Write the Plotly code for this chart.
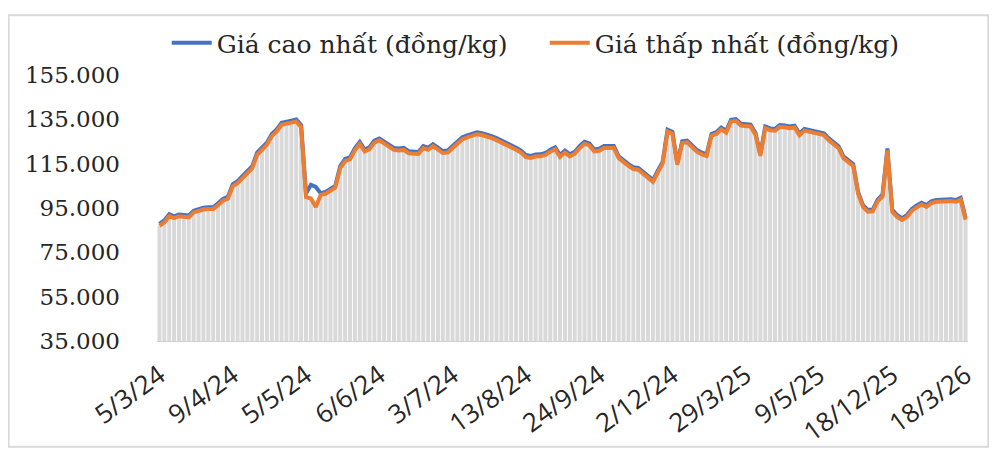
import plotly.graph_objects as go

tick_pos = [0, 15, 30, 45, 60, 75, 90, 105, 120, 135, 150, 165]
tick_labels = ["5/3/24", "9/4/24", "5/5/24", "6/6/24", "3/7/24", "13/8/24",
               "24/9/24", "2/12/24", "29/3/25", "9/5/25", "18/12/25", "18/3/26"]

gia_thap = [
    87000, 88500, 91300, 90400, 91300, 91000, 90800, 93000, 93700, 94300,
    94500, 94500, 96300, 98300, 99200, 104800, 106200, 108500, 110500, 113000,
    119000, 121500, 123500, 127500, 129500, 132500, 132800, 133500, 134000, 131500,
    100000, 99300, 95500, 100900, 101400, 102800, 104200, 113000, 116200, 116900,
    121000, 123900, 120500, 121500, 124500, 125500, 124100, 122500, 121200, 121000,
    121200, 119700, 119500, 119400, 122000, 121300, 122900, 121300, 119800, 120000,
    122100, 123700, 126000, 126900, 127500, 128300, 127900, 127300, 126500, 125600,
    124600, 123500, 122400, 121300, 120000, 118000, 117600, 118200, 118300, 118900,
    120400, 121500, 118000, 120000, 118300, 119500, 122000, 124000, 123200, 120500,
    120800, 122100, 122100, 122100, 117500, 115500, 114000, 112600, 112300, 110500,
    108400, 106800, 111000, 115000, 129500, 128500, 114500, 124300, 124600, 122300,
    120400, 119200, 118500, 127600, 128400, 130500, 129000, 134000, 134300, 132200,
    132100, 131800, 128000, 118500, 131000, 130100, 129900, 131600, 131400, 131000,
    131300, 127800, 129900, 129300, 128700, 128400, 127900, 125600, 123800, 122000,
    117500, 115900, 114000, 101500, 95500, 93300, 93500, 98000, 100200, 121000,
    93300, 91000, 89600, 91000, 93800, 95300, 96600, 95500, 97200, 97800,
    98000, 98200, 98100, 97800, 98800, 89700,
]

gia_cao = [
    87800, 89400, 92200, 91200, 92100, 91800, 91600, 93800, 94500, 95100,
    95300, 95300, 97100, 99100, 100000, 105700, 107100, 109400, 111400, 113900,
    120000, 122500, 124500, 128400, 130400, 133400, 133700, 134400, 134900, 132400,
    101500, 105500, 104500, 101700, 102200, 103600, 105000, 113900, 117100, 117800,
    121900, 124800, 121400, 122400, 125400, 126400, 125000, 123400, 122100, 121900,
    122100, 120600, 120400, 120300, 122900, 122200, 123800, 122200, 120700, 120900,
    123000, 124600, 126900, 127800, 128400, 129200, 128800, 128200, 127400, 126500,
    125500, 124400, 123300, 122200, 120900, 118900, 118500, 119100, 119200, 119800,
    121300, 122400, 118900, 120900, 119200, 120400, 122900, 124900, 124100, 121400,
    121700, 123000, 123000, 123000, 118300, 116300, 114800, 113400, 113100, 111300,
    109200, 107600, 111800, 115800, 130300, 129300, 115300, 125100, 125400, 123100,
    121200, 120000, 119300, 128400, 129200, 131300, 129800, 134800, 135100, 133000,
    132900, 132600, 128800, 119300, 131800, 130900, 130700, 132400, 132200, 131800,
    132100, 128600, 130700, 130100, 129500, 129200, 128700, 126400, 124600, 122800,
    118300, 116700, 114800, 102300, 96300, 94100, 94300, 98800, 101000, 121900,
    94100, 91800, 90400, 91800, 94600, 96100, 97400, 96300, 98000, 98600,
    98800, 99000, 98900, 98600, 99600, 90500,
]

x = list(range(len(gia_thap)))

fig = go.Figure()

fig.add_trace(
    go.Bar(
        x=x,
        y=gia_thap,
        marker=dict(color="#d9d9d9", line=dict(width=0)),
        showlegend=False,
        hoverinfo="skip",
    )
)

fig.add_trace(
    go.Scatter(
        x=x,
        y=gia_cao,
        mode="lines",
        name="Giá cao nhất (đồng/kg)",
        line=dict(color="#4472C4", width=4),
    )
)

fig.add_trace(
    go.Scatter(
        x=x,
        y=gia_thap,
        mode="lines",
        name="Giá thấp nhất (đồng/kg)",
        line=dict(color="#ED7D31", width=4),
    )
)

# the page has an 8px body margin, so the figure is sized to fit inside it
fig.update_layout(
    width=989,
    height=442,
    margin=dict(l=149, r=29, t=64, b=109),
    paper_bgcolor="white",
    plot_bgcolor="white",
    separators=",.",
    bargap=0.18,
    legend=dict(
        orientation="h",
        xanchor="left",
        x=0.012,
        yanchor="middle",
        y=1.12,
        font=dict(family="DejaVu Serif", size=25, color="#262626"),
        itemwidth=40,
        entrywidth=323,
    ),
    xaxis=dict(
        range=[-0.5, len(x) - 0.5],
        tickmode="array",
        tickvals=tick_pos,
        ticktext=tick_labels,
        tickangle=-36,
        tickfont=dict(family="Open Sans", size=26, color="#262626"),
        showgrid=False,
        zeroline=False,
        showline=True,
        linecolor="#cfcfcf",
        linewidth=1,
        ticks="",
        ticklabelstandoff=8,
        automargin=False,
    ),
    yaxis=dict(
        range=[35000, 155000],
        dtick=20000,
        tick0=35000,
        tickformat=",d",
        tickfont=dict(family="DejaVu Serif", size=23, color="#262626"),
        showgrid=False,
        zeroline=False,
        ticklabelstandoff=36,
        automargin=False,
    ),
    shapes=[
        dict(
            type="rect",
            xref="paper",
            yref="paper",
            x0=-0.183,
            x1=1.025,
            y0=-0.398,
            y1=1.225,
            line=dict(color="#d9d9d9", width=2),
            layer="below",
        )
    ],
)

fig.write_html("out.html")
